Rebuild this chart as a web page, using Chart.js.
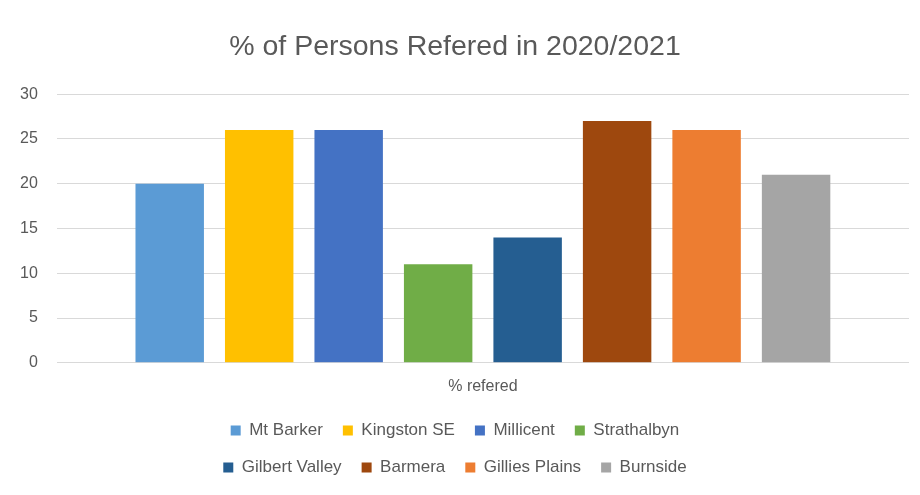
<!DOCTYPE html>
<html>
<head>
<meta charset="utf-8">
<script src="https://cdn.jsdelivr.net/npm/chart.js@4"></script>
<style>
  html, body { margin: 0; padding: 0; background: #fff; }
  #wrap { width: 920px; height: 495px; position: relative; }
</style>
</head>
<body>
<div id="wrap"><canvas id="grafico"></canvas></div>
<script>
// dados
const categorias = ['% refered'];
const locais = ['Mt Barker', 'Kingston SE', 'Millicent', 'Strathalbyn', 'Gilbert Valley', 'Barmera', 'Gillies Plains', 'Burnside'];
const valores = [20, 26, 26, 11, 14, 27, 26, 21];
const cores = ['#5b9bd5', '#ffc000', '#4472c4', '#70ad47', '#255e91', '#9e480e', '#ed7d31', '#a5a5a5'];
const ticksY = [0, 5, 10, 15, 20, 25, 30];

const fonte = "'Liberation Sans', 'DejaVu Sans', sans-serif";
const cinza = '#595959';
const larguraLegenda = 545;

// legenda em duas linhas (4 itens cada)
const legendaDuasLinhas = {
    id: 'legendaDuasLinhas',
    afterInit(chart) {
        const lg = chart.legend;
        const fitOriginal = lg.fit;
        lg.fit = function () {
            this.maxWidth = Math.min(this.maxWidth, larguraLegenda);
            fitOriginal.call(this);
        };
    },
    afterLayout(chart) {
        const lg = chart.legend;
        const meio = (lg.left + lg.right) / 2;
        lg.left = meio - larguraLegenda / 2;
        lg.right = meio + larguraLegenda / 2;
        lg.width = larguraLegenda;
    }
};

let ctx = document.getElementById('grafico').getContext('2d');

let chart = new Chart(ctx, {
    type: 'bar',
    data: {
        labels: categorias,
        datasets: locais.map((nome, i) => ({
            label: nome,
            data: [valores[i]],
            backgroundColor: cores[i],
            borderWidth: 0,
            categoryPercentage: 0.84,
            barPercentage: 0.765
        }))
    },
    plugins: [legendaDuasLinhas],
    options: {
        responsive: true,
        maintainAspectRatio: false,
        animation: false,
        layout: { padding: { left: 1, right: 11, top: 30, bottom: 9 } },
        plugins: {
            title: {
                display: true,
                text: '% of Persons Refered in 2020/2021',
                color: cinza,
                font: { family: fonte, size: 28.5, weight: 'normal' },
                padding: { top: 0, bottom: 30 }
            },
            legend: {
                position: 'bottom',
                labels: {
                    color: cinza,
                    font: { family: fonte, size: 17 },
                    boxWidth: 10,
                    boxHeight: 10,
                    padding: 20
                }
            },
            tooltip: { enabled: false }
        },
        scales: {
            x: {
                grid: { display: false },
                border: { display: false },
                ticks: { color: cinza, font: { family: fonte, size: 16 }, padding: 6 }
            },
            y: {
                min: 0,
                max: 30,
                afterBuildTicks: (axis) => { axis.ticks = ticksY.map(v => ({ value: v })); },
                grid: { color: '#d9d9d9', lineWidth: 1, drawTicks: false },
                border: { display: false },
                ticks: { color: cinza, font: { family: fonte, size: 16 }, padding: 19 }
            }
        }
    }
});
</script>
</body>
</html>
